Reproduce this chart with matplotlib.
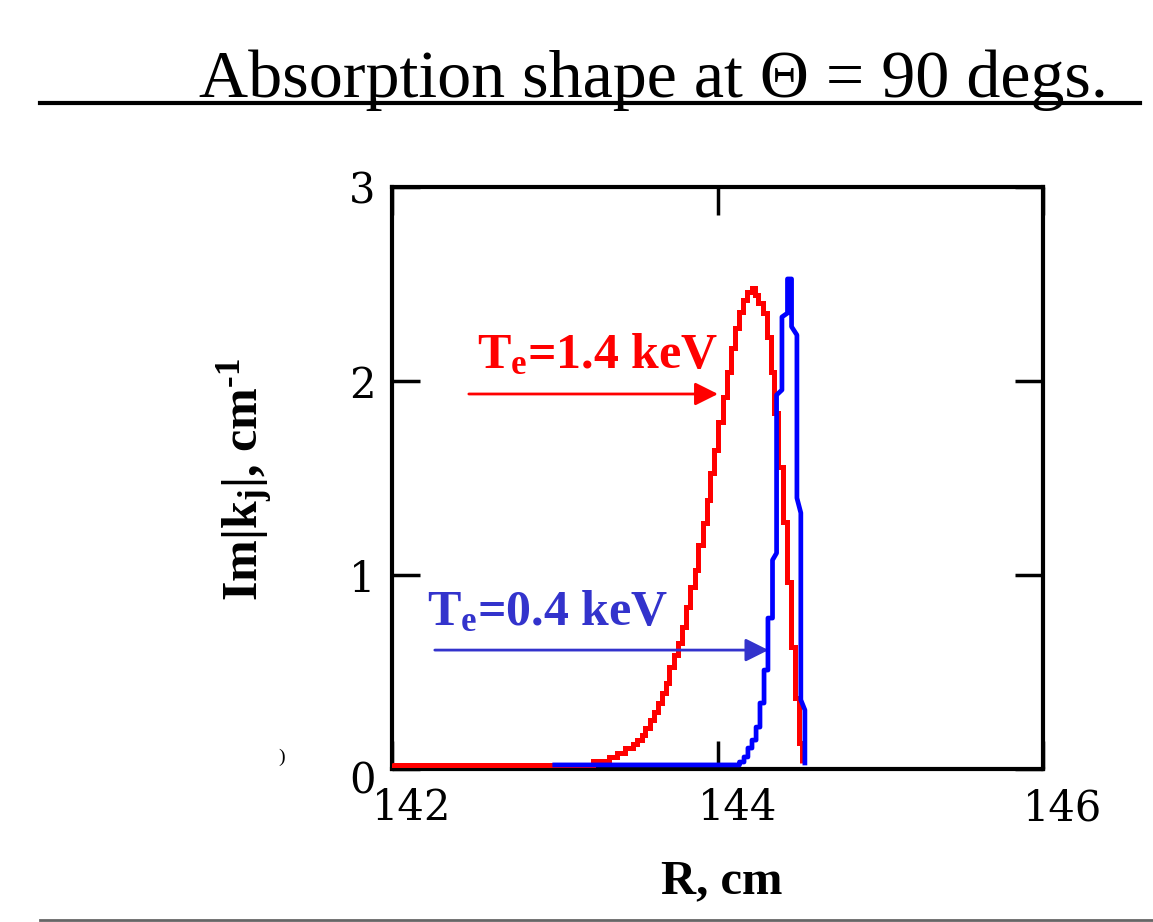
import matplotlib
matplotlib.use("Agg")
import matplotlib.pyplot as plt
from matplotlib.transforms import ScaledTranslation

plt.rcParams['font.family'] = ['Liberation Serif', 'DejaVu Serif']
plt.rcParams['mathtext.fontset'] = 'custom'
plt.rcParams['mathtext.rm'] = 'Liberation Serif:bold'
plt.rcParams['mathtext.it'] = 'Liberation Serif:bold'
plt.rcParams['mathtext.bf'] = 'Liberation Serif:bold'

# Te = 1.4 keV, stepped profile: bin edges (cm) and Im|k| per bin
red_edges = [142.000, 143.235, 143.333, 143.382, 143.432, 143.481, 143.505, 143.536,
             143.555, 143.585, 143.610, 143.634, 143.659, 143.684, 143.702, 143.733,
             143.757, 143.782, 143.806, 143.831, 143.862, 143.880, 143.911, 143.935,
             143.954, 143.978, 144.003, 144.034, 144.058, 144.083, 144.108, 144.132,
             144.157, 144.181, 144.212, 144.230, 144.249, 144.280, 144.304, 144.329,
             144.347, 144.372, 144.402, 144.427, 144.452, 144.476, 144.501, 144.519]
red_vals = [0.020, 0.043, 0.060, 0.081, 0.107, 0.129, 0.149, 0.175, 0.210, 0.253,
            0.295, 0.339, 0.390, 0.442, 0.527, 0.588, 0.648, 0.734, 0.837, 0.940,
            1.026, 1.155, 1.270, 1.387, 1.526, 1.644, 1.790, 1.919, 2.048, 2.168,
            2.272, 2.357, 2.418, 2.460, 2.478, 2.443, 2.402, 2.351, 2.227, 2.046,
            1.835, 1.557, 1.273, 0.964, 0.629, 0.366, 0.134]

# Te = 0.4 keV, traced outline
blue_r = [143.000, 144.135, 144.135, 144.163, 144.163, 144.187, 144.187, 144.212,
          144.212, 144.237, 144.237, 144.261, 144.261, 144.286, 144.286, 144.310,
          144.310, 144.338, 144.338, 144.363, 144.363, 144.396, 144.396, 144.430,
          144.430, 144.455, 144.455, 144.488, 144.488, 144.512, 144.512, 144.537,
          144.537]
blue_v = [0.021, 0.021, 0.036, 0.036, 0.062, 0.062, 0.108, 0.108,
          0.149, 0.149, 0.216, 0.216, 0.340, 0.340, 0.510, 0.510,
          0.778, 0.778, 1.077, 1.113, 1.928, 1.954, 2.330, 2.350,
          2.526, 2.526, 2.280, 2.237, 1.397, 1.320, 0.356, 0.304,
          0.031]

red = '#ff0000'
blue = '#0000ff'
blue_txt = '#3333cc'

fig = plt.figure(figsize=(11.53, 9.22), dpi=100)
ax = fig.add_axes([392/1153, 1 - 769/922, 651/1153, 582/922])

ax.stairs(red_vals, red_edges, baseline=0.03, color=red, lw=3.6, zorder=3)
ax.plot(blue_r, blue_v, color=blue, lw=3.4, zorder=4)

ax.set_xlim(142, 146)
ax.set_ylim(0, 3)
ax.set_xticks([142, 144, 146])
ax.set_yticks([0, 1, 2, 3])
ax.tick_params(direction='in', length=20, width=2.5, labelsize=30,
               top=True, right=True, pad=12)
ax.tick_params(axis='x', pad=13)
for lab in ax.get_xticklabels() + ax.get_yticklabels():
    lab.set_fontfamily('DejaVu Serif')
for sp in ax.spines.values():
    sp.set_linewidth(3)

# tick labels in the original sit a bit to the right of their ticks
shift = ScaledTranslation(0.2, 0, fig.dpi_scale_trans)
for lab in ax.get_xticklabels():
    lab.set_transform(lab.get_transform() + shift)
ylabs = ax.get_yticklabels()
ylabs[0].set_transform(ylabs[0].get_transform() + ScaledTranslation(0, -0.08, fig.dpi_scale_trans))

ax.text(142.522, 2.067, r'T$_{\rm e}$=1.4 keV', color=red, fontsize=36,
        fontweight='bold', va='baseline', ha='left')
ax.annotate('', xy=(144.02, 1.933), xytext=(142.455, 1.933),
            arrowprops=dict(arrowstyle='-|>', color=red, lw=2, mutation_scale=35))
ax.text(142.215, 0.742, r'T$_{\rm e}$=0.4 keV', color=blue_txt, fontsize=36,
        fontweight='bold', va='baseline', ha='left')
ax.annotate('', xy=(144.33, 0.613), xytext=(142.246, 0.613),
            arrowprops=dict(arrowstyle='-|>', color=blue_txt, lw=2, mutation_scale=35))

fig.text(722/1153, 1 - 893/922, 'R, cm', fontsize=35, fontweight='bold',
         ha='center', va='baseline')
fig.text(246/1153, 1 - 480/922, 'Im|k$_{\\rm j}$|, cm$^{\\rm \u20101}$', fontsize=36,
         fontweight='bold', rotation=90, ha='center', va='center')

fig.text(653/1153, 1 - 97/922, 'Absorption shape at \u0398 = 90 degs.', fontsize=49,
         ha='center', va='baseline')
fig.add_artist(plt.Line2D([40/1153, 1140/1153], [1 - 103/922, 1 - 103/922],
                          color='black', lw=3))
fig.add_artist(plt.Line2D([40/1153, 1], [1 - 920/922, 1 - 920/922],
                          color='#666666', lw=2))
fig.text(282/1153, 1 - 757/922, ')', fontsize=14, ha='center', va='center')

fig.savefig('out.png', dpi=100)
